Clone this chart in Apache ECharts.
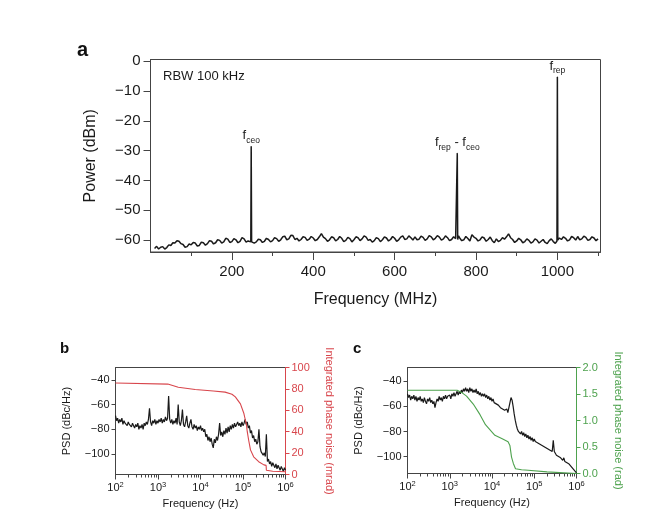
<!DOCTYPE html>
<html>
<head>
<meta charset="utf-8">
<script src="https://cdn.jsdelivr.net/npm/echarts@6/dist/echarts.min.js"></script>
<style>
html,body{margin:0;padding:0;background:#fff;}
#chart{width:649px;height:523px;}
</style>
</head>
<body>
<div id="chart"></div>
<script>
// ---------- Panel a: RF spectrum (MHz, dBm) ----------
var spectrumA = [
[10,-62.8],[15,-62.1],[20,-63.0],[25,-62.4],[30,-62.2],[35,-63.0],[40,-62.5],[45,-61.6],[50,-61.8],[55,-60.9],
[60,-61.0],[65,-60.2],[70,-60.4],[75,-61.2],[80,-61.5],[85,-62.4],[90,-62.2],[95,-61.3],[100,-61.6],[105,-60.8],
[110,-61.0],[115,-62.0],[120,-61.8],[125,-60.7],[130,-60.9],[135,-61.7],[140,-61.2],[145,-60.2],[150,-60.4],[155,-61.3],
[160,-60.9],[165,-59.9],[170,-60.1],[175,-61.0],[180,-60.6],[185,-59.4],[190,-59.7],[195,-60.8],[200,-60.5],[205,-59.5],
[210,-59.9],[215,-60.9],[220,-60.4],[225,-59.2],[230,-59.6],[235,-60.7],[240,-60.3],[244,-59.8],
[246.5,-60.6],[247.5,-28.6],[248.5,-60.6],
[250,-60.0],[255,-61.0],[260,-60.6],[265,-59.7],[270,-59.9],[275,-60.8],[280,-60.4],[285,-59.4],[290,-59.8],[295,-60.6],
[300,-60.2],[305,-59.2],[310,-59.5],[315,-60.4],[320,-59.9],[325,-58.9],[330,-58.7],[335,-59.9],[340,-59.6],[345,-58.4],
[350,-58.5],[355,-59.8],[360,-59.4],[365,-60.3],[370,-59.8],[375,-58.9],[380,-59.1],[385,-60.1],[390,-59.7],[395,-58.8],
[400,-59.3],[405,-60.2],[410,-59.8],[415,-58.9],[420,-57.8],[425,-59.0],[430,-59.5],[435,-60.4],[440,-59.9],[445,-58.9],
[450,-59.2],[455,-60.3],[460,-59.8],[465,-58.8],[470,-59.4],[475,-60.5],[480,-60.1],[485,-59.1],[490,-59.5],[495,-60.6],
[500,-59.9],[505,-58.9],[510,-59.2],[515,-60.2],[520,-59.6],[525,-58.6],[530,-59.0],[535,-60.1],[540,-59.8],[545,-60.7],
[550,-60.2],[555,-59.2],[560,-59.5],[565,-60.5],[570,-59.9],[575,-58.9],[580,-59.3],[585,-60.3],[590,-59.8],[595,-58.8],
[600,-59.4],[605,-60.4],[610,-59.9],[615,-59.0],[620,-58.6],[625,-59.8],[630,-59.6],[635,-58.6],[640,-59.2],[645,-60.0],
[650,-58.9],[655,-59.9],[660,-59.7],[665,-58.7],[670,-59.1],[675,-60.1],[680,-59.6],[685,-58.5],[690,-58.9],[695,-59.9],
[700,-59.4],[705,-58.5],[710,-59.0],[715,-60.0],[720,-59.6],[725,-58.6],[730,-59.2],[735,-60.2],[740,-59.8],[745,-58.9],
[750,-59.5],[753,-59.8],[754,-30.9],[755,-59.8],[757,-58.6],
[760,-59.3],[765,-60.2],[770,-59.9],[775,-58.8],[780,-59.5],[785,-60.3],[790,-58.2],[795,-59.0],[800,-59.4],[805,-60.3],
[810,-59.9],[815,-58.9],[820,-59.3],[825,-60.4],[830,-59.8],[835,-59.0],[840,-60.2],[845,-60.9],[850,-59.6],[855,-60.5],
[860,-60.1],[865,-59.2],[870,-59.7],[875,-58.9],[880,-57.9],[885,-59.2],[890,-59.8],[895,-60.8],[900,-60.3],[905,-59.4],
[910,-59.9],[915,-60.9],[920,-60.5],[925,-59.6],[930,-60.1],[935,-61.0],[940,-60.6],[945,-59.6],[950,-60.0],[955,-61.0],
[960,-60.4],[965,-59.8],[970,-60.8],[975,-61.2],[980,-60.2],[985,-59.6],[990,-60.5],[995,-61.1],
[999,-60.3],[1000,-5.3],[1001,-60.0],
[1005,-59.3],[1010,-59.8],[1015,-58.9],[1020,-59.4],[1025,-60.3],[1030,-59.9],[1035,-58.8],[1040,-59.2],[1045,-60.0],[1050,-58.8],
[1055,-59.9],[1060,-59.6],[1065,-58.7],[1070,-59.1],[1075,-60.1],[1080,-59.8],[1085,-58.9],[1090,-59.3],[1095,-60.2],[1100,-59.6]
];
var peakLabelsA = [
  {f:247.5, text:'{m|f}{sub|ceo}'},
  {f:754,   text:'{m|f}{sub|rep}{m| - f}{sub|ceo}'},
  {f:1000,  text:'{m|f}{sub|rep}'}
];
var xMajorA = [200,400,600,800,1000];
var xMinorA = [100,300,500,700,900,1100];
var yTicksA = [0,-10,-20,-30,-40,-50,-60];

// ---------- Panels b and c: frequency exponents (log10 Hz) of the PSD samples ----------
var psdExp = [
2.000,2.025,2.050,2.075,2.100,2.125,2.150,2.175,2.200,2.225,2.250,2.275,2.300,2.325,2.350,2.375,2.400,2.425,2.450,2.475,
2.500,2.525,2.550,2.575,2.600,2.625,2.650,2.675,2.700,2.725,2.750,2.775,2.800,2.825,2.850,2.875,2.900,2.925,2.950,2.975,
3.000,3.025,3.050,3.075,3.100,3.125,3.150,3.175,3.200,3.225,3.250,3.275,3.300,3.325,3.350,3.375,3.400,3.425,3.450,3.475,
3.500,3.525,3.550,3.575,3.600,3.625,3.650,3.675,3.700,3.725,3.750,3.775,3.800,3.825,3.850,3.875,3.900,3.925,3.950,3.975,
4.000,4.025,4.050,4.075,4.100,4.125,4.150,4.175,4.200,4.225,4.250,4.275,4.300,4.325,4.350,4.375,4.400,4.425,4.450,4.475,
4.500,4.525,4.550,4.575,4.600,4.625,4.650,4.675,4.700,4.725,4.750,4.775,4.800,4.825,4.850,4.875,4.900,4.925,4.950,4.975,
5.000,5.025,5.050,5.075,5.100,5.125,5.150,5.175,5.200,5.225,5.250,5.275,5.300,5.325,5.350,5.375,5.400,5.425,5.450,5.475,
5.500,5.525,5.550,5.575,5.600,5.625,5.650,5.675,5.700,5.725,5.750,5.775,5.800,5.825,5.850,5.875,5.900,5.925,5.950,5.975,
6.000];

var psdB = [
-69,-73,-71,-75,-72,-74,-71,-76,-73,-75, -74,-77,-74,-76,-75,-78,-75,-77,-79,-76,
-78,-75,-80,-77,-79,-76,-80,-75,-77,-74, -76,-72,-63,-74,-77,-73,-75,-72,-76,-73,
-75,-72,-74,-71,-75,-72,-74,-70,-73,-71, -53,-72,-75,-72,-76,-73,-75,-71,-76,-60,
-74,-77,-73,-64,-76,-78,-74,-69,-77,-79, -75,-72,-78,-80,-76,-79,-77,-81,-78,-80,
-77,-81,-79,-82,-80,-86,-84,-89,-86,-90, -87,-92,-95,-88,-91,-86,-89,-84,-75,-85,
-82,-86,-81,-84,-79,-83,-78,-82,-77,-80, -76,-79,-75,-78,-76,-74,-77,-75,-78,-74,
-77,-75,-72,-76,-74,-79,-77,-83,-81,-87, -85,-90,-88,-92,-90,-80,-94,-98,-97,-101,
-99,-102,-84,-106,-104,-108,-106,-110,-107,-109, -111,-108,-112,-109,-111,-113,-110,-112,-114,-111,
-113];

var intB = [[100,85.5],[1700,84.5],[1800,82.8],[3000,81.5],[7500,79.5],[20000,78],[38000,77],[55000,75],[66000,72.5],
[87000,66],[105000,57],[115000,50],[120000,47],[126000,40],[136000,32],[150000,23],[178000,16.5],[234000,12],
[310000,9],[350000,8.5],[355000,4],[500000,3],[1000000,2.5]];

var psdC = [
-50,-53,-51,-55,-52,-54,-51,-55,-52,-56, -53,-55,-52,-56,-54,-57,-53,-56,-58,-54,
-56,-53,-57,-55,-58,-56,-61,-57,-54,-56, -52,-55,-53,-56,-52,-54,-51,-54,-52,-53,
-51,-54,-50,-52,-49,-52,-50,-48,-51,-48, -50,-47,-49,-46,-48,-45,-48,-46,-49,-45,
-48,-46,-49,-47,-49,-46,-50,-48,-51,-49, -52,-50,-52,-50,-53,-51,-54,-52,-55,-53,
-56,-54,-57,-56,-58,-57,-59,-58,-61,-60, -62,-61,-63,-64,-62,-65,-61,-57,-53,-55,
-60,-66,-71,-75,-78,-80,-79,-82,-80,-83, -81,-84,-82,-85,-83,-86,-84,-87,-85,-88,
-86,-88,-87,-89,-88,-90,-89,-91,-90,-92, -91,-93,-92,-94,-93,-95,-94,-96,-87,-96,
-97,-99,-98,-100,-99,-101,-100,-103,-101,-104, -103,-105,-104,-106,-107,-108,-108,-110,-110,-112,
-113];

var intC = [[100,1.57],[1500,1.57],[1900,1.53],[2500,1.46],[3600,1.31],[5200,1.11],[7000,0.92],[11700,0.72],
[17000,0.66],[24000,0.6],[26500,0.53],[29000,0.31],[32000,0.19],[36000,0.09],[50000,0.07],[72000,0.06],
[200000,0.03],[1000000,0.0]];

var logMinorTicks = [200,300,400,500,600,700,800,900,2000,3000,4000,5000,6000,7000,8000,9000,
20000,30000,40000,50000,60000,70000,80000,90000,200000,300000,400000,500000,600000,700000,800000,900000];
var yTicksPSD = [-40,-60,-80,-100];
var yTicksMrad = [0,20,40,60,80,100];
var yTicksRad = [0,0.5,1.0,1.5,2.0];

var RED = '#d8464c', GREEN = '#4ea24e', INK = '#1a1a1a', AXIS = '#444';
var FONT = 'Liberation Sans, Arial, Helvetica, sans-serif';

function minus(v){ return String(v).replace('-', '\u2212'); }
function pairs(exp, vals){ return exp.map(function(e,i){ return [Math.pow(10,e), vals[i]]; }); }

var peakMap = {};
peakLabelsA.forEach(function(p){ peakMap[p.f] = p.text; });
var specData = spectrumA.map(function(d){
  if (peakMap[d[0]]) {
    return {value:d, symbol:'circle', symbolSize:1, itemStyle:{color:INK},
      label:{show:true, position:'top', distance:1, formatter:peakMap[d[0]],
      rich:{m:{fontSize:13, fontFamily:FONT, color:INK, verticalAlign:'top', lineHeight:16},
            sub:{fontSize:8.5, fontFamily:FONT, color:INK, verticalAlign:'bottom', lineHeight:16, padding:[6,0,0,0]}}}};
  }
  return d;
});

function logLabel(v){
  var e = Math.round(Math.log(v)/Math.LN10);
  return '{b|10}{s|' + e + '}';
}
var logRich = {b:{fontSize:11, fontFamily:FONT, color:INK}, s:{fontSize:7.5, fontFamily:FONT, color:INK, padding:[0,0,6,0]}};

function smallPanel(gi, rightColor, rightName, rightTicks, rightMax, leftMin, leftMax) {
  return {
    x: [
      {type:'log', gridIndex:gi, logBase:10, min:100, max:1000000, position:'bottom',
       name:'Frequency (Hz)', nameLocation:'middle', nameGap:24,
       nameTextStyle:{fontFamily:FONT, fontSize:11, color:INK},
       axisLine:{show:true, onZero:false, lineStyle:{color:AXIS, width:1}},
       axisTick:{show:true, inside:false, length:5, lineStyle:{color:AXIS}},
       axisLabel:{show:true, margin:6, formatter:logLabel, rich:logRich},
       splitLine:{show:false}},
      {type:'log', gridIndex:gi, logBase:10, min:100, max:1000000, position:'bottom',
       axisLine:{show:false, onZero:false}, axisLabel:{show:false}, splitLine:{show:false},
       axisTick:{show:true, length:3, customValues:logMinorTicks, lineStyle:{color:AXIS}}}
    ],
    y: [
      {type:'value', gridIndex:gi, min:leftMin, max:leftMax, position:'left',
       name:'PSD (dBc/Hz)', nameLocation:'middle', nameGap:43, nameRotate:90,
       nameTextStyle:{fontFamily:FONT, fontSize:11, color:INK},
       axisLine:{show:true, onZero:false, lineStyle:{color:AXIS}},
       axisTick:{show:true, length:4, customValues:yTicksPSD, lineStyle:{color:AXIS}},
       axisLabel:{customValues:yTicksPSD, formatter:function(v){return minus(v);}, fontFamily:FONT, fontSize:11, color:INK, margin:6},
       splitLine:{show:false}},
      {type:'value', gridIndex:gi, min:0, max:rightMax, position:'right',
       name:rightName, nameLocation:'middle', nameGap:rightMax===100?38:36, nameRotate:-90,
       nameTextStyle:{fontFamily:FONT, fontSize:11, color:rightColor},
       axisLine:{show:true, onZero:false, lineStyle:{color:rightColor}},
       axisTick:{show:true, length:4, customValues:rightTicks, lineStyle:{color:rightColor}},
       axisLabel:{customValues:rightTicks, fontFamily:FONT, fontSize:11, color:rightColor, margin:6,
         formatter:function(v){ return rightMax===100 ? String(v) : v.toFixed(1); }},
       splitLine:{show:false}}
    ]
  };
}

var pb = smallPanel(1, RED, 'Integrated phase noise (mrad)', yTicksMrad, 100, -116.5, -30);
var pc = smallPanel(2, GREEN, 'Integrated phase noise (rad)', yTicksRad, 2, -113.5, -29);

var option = {
  animation:false,
  backgroundColor:'#fff',
  textStyle:{fontFamily:FONT},
  grid:[
    {left:150.5, top:59.5, width:450, height:192.5, show:true, borderColor:AXIS, borderWidth:1, backgroundColor:'transparent'},
    {left:115.5, top:367.5, width:170, height:107, show:true, borderColor:AXIS, borderWidth:1, backgroundColor:'transparent'},
    {left:407.5, top:367.5, width:169, height:106, show:true, borderColor:AXIS, borderWidth:1, backgroundColor:'transparent'}
  ],
  xAxis:[
    {type:'value', gridIndex:0, min:0, max:1106, position:'bottom',
     name:'Frequency (MHz)', nameLocation:'middle', nameGap:40,
     nameTextStyle:{fontFamily:FONT, fontSize:16, color:INK},
     axisLine:{show:true, onZero:false, lineStyle:{color:AXIS}},
     axisTick:{show:true, length:8, customValues:xMajorA, lineStyle:{color:AXIS}},
     axisLabel:{customValues:xMajorA, formatter:function(v){return String(v);}, fontFamily:FONT, fontSize:15, color:INK, margin:12},
     splitLine:{show:false}},
    {type:'value', gridIndex:0, min:0, max:1106, position:'bottom',
     axisLine:{show:false, onZero:false}, axisLabel:{show:false}, splitLine:{show:false},
     axisTick:{show:true, length:4, customValues:xMinorA, lineStyle:{color:AXIS}}},
    pb.x[0], pb.x[1], pc.x[0], pc.x[1]
  ],
  yAxis:[
    {type:'value', gridIndex:0, min:-64, max:0.6, position:'left',
     name:'Power (dBm)', nameLocation:'middle', nameGap:52, nameRotate:90,
     nameTextStyle:{fontFamily:FONT, fontSize:16, color:INK},
     axisLine:{show:true, onZero:false, lineStyle:{color:AXIS}},
     axisTick:{show:true, length:7, customValues:yTicksA, lineStyle:{color:AXIS}},
     axisLabel:{customValues:yTicksA, formatter:function(v){return minus(v);}, fontFamily:FONT, fontSize:15, color:INK, margin:10},
     splitLine:{show:false}},
    pb.y[0], pb.y[1], pc.y[0], pc.y[1]
  ],
  series:[
    {type:'line', xAxisIndex:0, yAxisIndex:0, data:specData, symbol:'none',
     lineStyle:{color:INK, width:1.5}, labelLayout:{hideOverlap:false}},
    {type:'line', xAxisIndex:2, yAxisIndex:1, data:pairs(psdExp, psdB), symbol:'none',
     lineStyle:{color:INK, width:1.2}},
    {type:'line', xAxisIndex:2, yAxisIndex:2, data:intB, symbol:'none',
     lineStyle:{color:RED, width:1.1}},
    {type:'line', xAxisIndex:4, yAxisIndex:3, data:pairs(psdExp, psdC), symbol:'none',
     lineStyle:{color:INK, width:1.2}},
    {type:'line', xAxisIndex:4, yAxisIndex:4, data:intC, symbol:'none',
     lineStyle:{color:GREEN, width:1.1}}
  ],
  graphic:[
    {type:'text', left:77, top:40, style:{text:'a', font:'bold 20px ' + FONT, fill:'#111'}},
    {type:'text', left:163, top:70, style:{text:'RBW 100 kHz', font:'13px ' + FONT, fill:INK}},
    {type:'text', left:60, top:341, style:{text:'b', font:'bold 15px ' + FONT, fill:'#111'}},
    {type:'text', left:353, top:341, style:{text:'c', font:'bold 15px ' + FONT, fill:'#111'}}
  ]
};

var chart = echarts.init(document.getElementById('chart'), null, {renderer:'canvas'});
chart.setOption(option);
</script>
</body>
</html>
